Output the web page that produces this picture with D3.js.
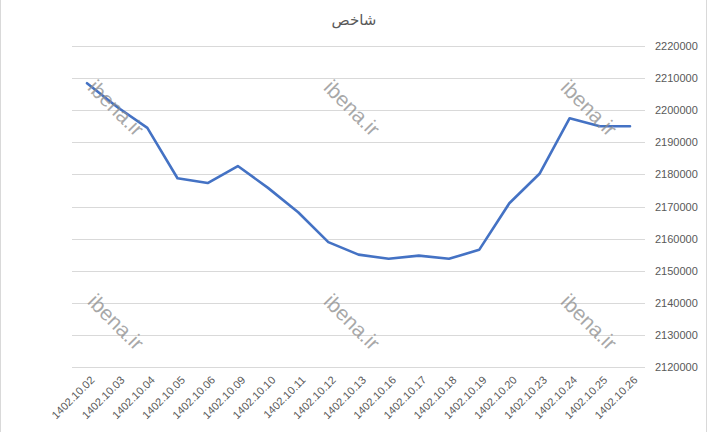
<!DOCTYPE html>
<html><head><meta charset="utf-8">
<script src="https://cdn.jsdelivr.net/npm/d3@7"></script>
<style>body{margin:0;background:#fff;}svg{display:block;}</style>
</head><body>
<script>
const title = "شاخص";
const categories = ["1402.10.02","1402.10.03","1402.10.04","1402.10.05","1402.10.06","1402.10.09","1402.10.10","1402.10.11","1402.10.12","1402.10.13","1402.10.16","1402.10.17","1402.10.18","1402.10.19","1402.10.20","1402.10.23","1402.10.24","1402.10.25","1402.10.26"];
const values = [2208400,2201000,2194500,2178800,2177300,2182600,2175800,2168200,2158900,2155000,2153700,2154700,2153700,2156500,2171000,2180200,2197500,2195000,2195000];
const yTicks = [2120000,2130000,2140000,2150000,2160000,2170000,2180000,2190000,2200000,2210000,2220000];
const watermark = "ibena.ir";

const W = 708, H = 432;
const svg = d3.select("body").append("svg").attr("width", W).attr("height", H);
const font = "'Liberation Sans', Arial, sans-serif";

const x = d3.scalePoint().domain(categories).range([87, 630]);
const y = d3.scaleLinear().domain([2120000, 2220000]).range([367, 46]);

// border lines
svg.append("line").attr("x1",0.5).attr("x2",0.5).attr("y1",0).attr("y2",H).attr("stroke","#d9d9d9");
svg.append("line").attr("x1",706.5).attr("x2",706.5).attr("y1",0).attr("y2",H).attr("stroke","#d9d9d9");

// gridlines
svg.append("g").selectAll("line").data(yTicks).join("line")
  .attr("x1", 72).attr("x2", 645)
  .attr("y1", d => Math.round(y(d)) + 0.5).attr("y2", d => Math.round(y(d)) + 0.5)
  .attr("stroke", "#d9d9d9").attr("stroke-width", 1);

// right y axis
const yAxis = d3.axisRight(y).tickValues(yTicks).tickSize(0).tickPadding(10).tickFormat(d3.format("d"));
const gy = svg.append("g").attr("transform", "translate(645,0)").call(yAxis);
gy.select(".domain").remove();
gy.selectAll("text").attr("font-family", font).attr("font-size", "11px").attr("fill", "#595959");

// x axis
const xAxis = d3.axisBottom(x).tickSize(0).tickPadding(0);
const gx = svg.append("g").attr("transform", "translate(0,372)").call(xAxis);
gx.select(".domain").remove();
gx.selectAll("text")
  .attr("font-family", font).attr("font-size", "11px").attr("fill", "#595959")
  .attr("text-anchor", "end").attr("dy", "0.35em")
  .attr("transform", "translate(5,6) rotate(-45)");

// line
svg.append("path").datum(values)
  .attr("fill", "none").attr("stroke", "#4472c4").attr("stroke-width", 2.6)
  .attr("stroke-linejoin", "round").attr("stroke-linecap", "round")
  .attr("d", d3.line().x((d, i) => x(categories[i])).y(d => y(d)));

// title
svg.append("text").attr("x", 354).attr("y", 25).attr("text-anchor", "middle")
  .attr("font-family", "'DejaVu Sans', 'Noto Sans', sans-serif").attr("font-size", "15px").attr("fill", "#595959")
  .text(title);

// watermarks
const wmPos = [[116,108],[352,108],[589,108],[116,322],[352,322],[589,322]];
svg.append("g").selectAll("text").data(wmPos).join("text")
  .attr("transform", d => `translate(${d[0]},${d[1]}) rotate(45)`)
  .attr("text-anchor", "middle").attr("dy", "0.35em")
  .attr("font-family", font).attr("font-size", "21px").attr("fill", "#8c8c8c").attr("fill-opacity", 0.75)
  .text(watermark);
</script>
</body></html>
